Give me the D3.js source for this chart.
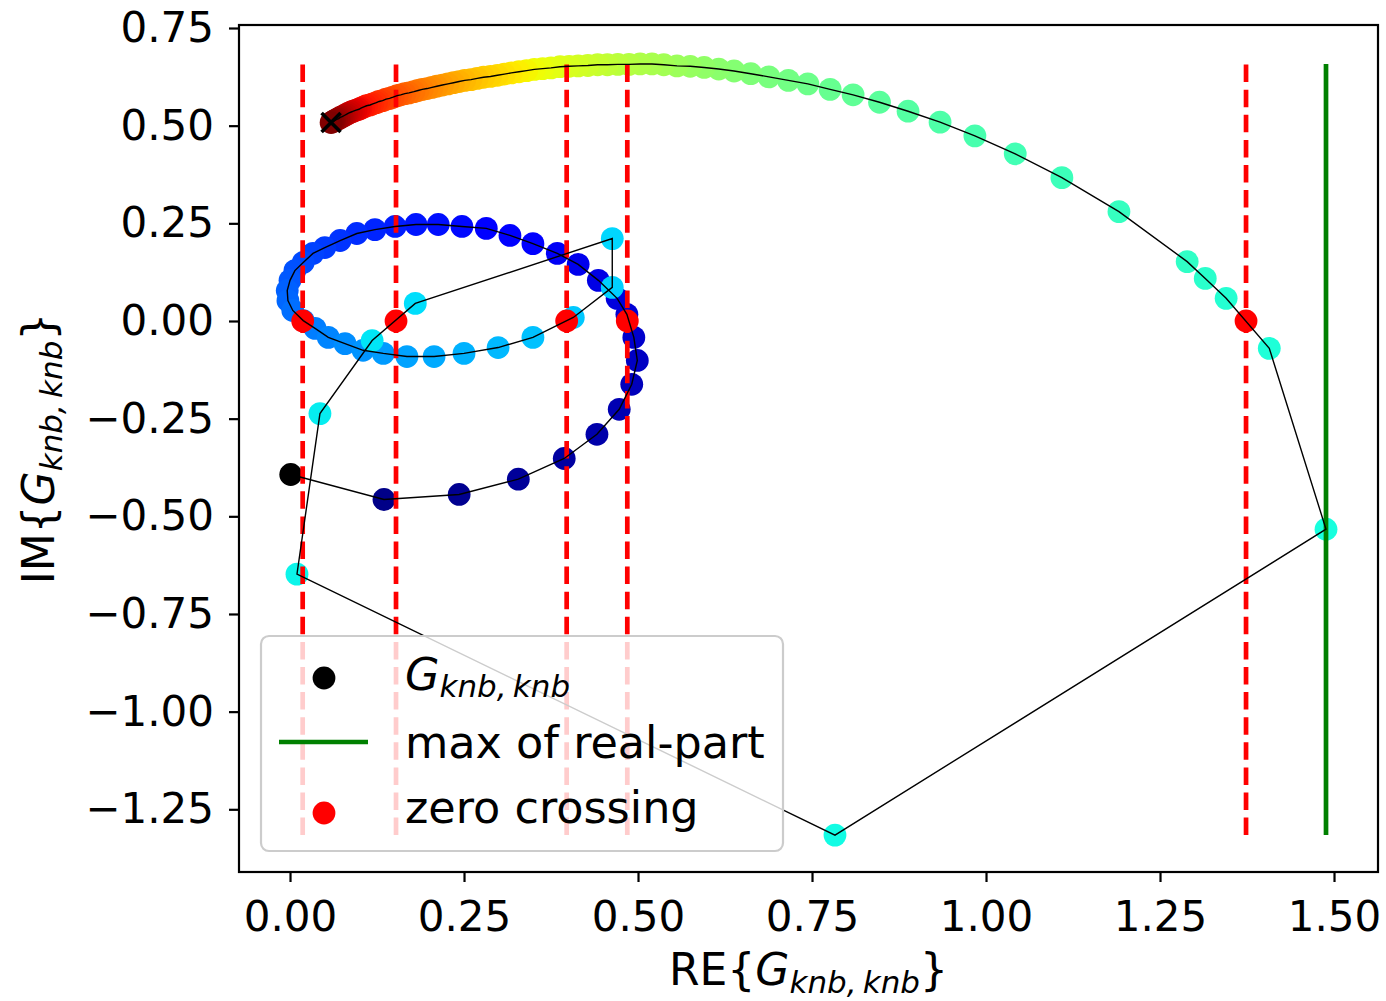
<!DOCTYPE html>
<html><head><meta charset="utf-8">
<script src="https://cdn.jsdelivr.net/npm/d3@7"></script>
<style>
body{margin:0;background:#fff}
svg{display:block}
text{font-family:"DejaVu Sans",sans-serif;fill:#000}
</style>
</head><body>
<svg id="chart" width="1386" height="1001"></svg>
<script>
// ---- data ----
const reG = [
 0.001, 0.135, 0.243, 0.328, 0.394, 0.441, 0.473, 0.491, 0.499, 0.494, 0.484,
 0.470, 0.443, 0.414, 0.384, 0.349, 0.316, 0.282, 0.247, 0.213, 0.181,
 0.151, 0.122, 0.096, 0.072, 0.050, 0.033, 0.019, 0.007, 0.000, -0.004,
 -0.003, 0.004, 0.019, 0.036, 0.055, 0.079, 0.105, 0.134, 0.168, 0.207,
 0.250, 0.299, 0.349, 0.407, 0.463, 0.463, 0.180, 0.118, 0.043, 0.010,
 0.783, 1.4885, 1.407, 1.345, 1.315, 1.289, 1.191, 1.109, 1.042, 0.984,
 0.934, 0.888, 0.847, 0.809, 0.776, 0.744, 0.716, 0.688, 0.662, 0.638,
 0.616, 0.595, 0.575, 0.556, 0.537, 0.520, 0.503,
 0.487, 0.471, 0.456, 0.442, 0.428, 0.414, 0.401, 0.388, 0.375, 0.363,
 0.351, 0.340, 0.329, 0.318, 0.308, 0.298, 0.288, 0.278, 0.269, 0.260,
 0.251, 0.243, 0.235, 0.227, 0.219, 0.211, 0.204, 0.197, 0.190, 0.184,
 0.178, 0.171, 0.165, 0.159, 0.154, 0.148, 0.143, 0.138, 0.133, 0.128,
 0.124, 0.119, 0.115, 0.110, 0.106, 0.102, 0.099, 0.095, 0.091, 0.088,
 0.084, 0.081, 0.078, 0.075, 0.072, 0.070, 0.067, 0.064, 0.062, 0.059
];
const imG = [
 -0.393, -0.457, -0.444, -0.405, -0.352, -0.290, -0.226, -0.162, -0.101, -0.042, 0.017,
 0.058, 0.104, 0.145, 0.173, 0.198, 0.219, 0.237, 0.242, 0.247, 0.247,
 0.242, 0.234, 0.224, 0.206, 0.188, 0.173, 0.150, 0.129, 0.104, 0.078,
 0.052, 0.027, 0.001, -0.019, -0.042, -0.058, -0.075, -0.083, -0.091, -0.091,
 -0.083, -0.068, -0.042, 0.009, 0.086, 0.211, 0.045, -0.050, -0.237, -0.648,
 -1.316, -0.533, -0.070, 0.058, 0.109, 0.152, 0.280, 0.367, 0.428, 0.474,
 0.509, 0.537, 0.560, 0.579, 0.593, 0.607, 0.616, 0.625, 0.633, 0.640,
 0.645, 0.649, 0.652, 0.653, 0.656, 0.658, 0.658,
 0.657, 0.657, 0.656, 0.656, 0.654, 0.653, 0.652, 0.651, 0.648, 0.646,
 0.644, 0.641, 0.638, 0.635, 0.632, 0.629, 0.626, 0.624, 0.621, 0.618,
 0.616, 0.613, 0.610, 0.607, 0.604, 0.601, 0.598, 0.595, 0.593, 0.590,
 0.587, 0.584, 0.582, 0.579, 0.577, 0.573, 0.570, 0.568, 0.564, 0.562,
 0.559, 0.556, 0.553, 0.551, 0.548, 0.545, 0.542, 0.540, 0.537, 0.535,
 0.532, 0.529, 0.526, 0.523, 0.521, 0.518, 0.516, 0.513, 0.511, 0.508
];
const zeroCrossRe = [0.0182, 0.1523, 0.3975, 0.4846, 1.3736];
const maxRe = 1.4885;
const xTicks = [0, 0.25, 0.5, 0.75, 1.0, 1.25, 1.5];
const xTickLabels = ["0.00", "0.25", "0.50", "0.75", "1.00", "1.25", "1.50"];
const yTicks = [0.75, 0.5, 0.25, 0, -0.25, -0.5, -0.75, -1.0, -1.25];
const yTickLabels = ["0.75", "0.50", "0.25", "0.00", "\u22120.25", "\u22120.50", "\u22120.75", "\u22121.00", "\u22121.25"];
const legendLabels = ["G", "max of real-part", "zero crossing"];

// ---- layout ----
const L = 239, R = 1378, T = 25, B = 872;
const svg = d3.select("#chart");
const x = d3.scaleLinear().domain([-0.0733, 1.5632]).range([L, R]);
const y = d3.scaleLinear().domain([-1.4105, 0.7577]).range([B, T]);

// jet colormap
const jetR = [[0,0],[0.35,0],[0.66,1],[0.89,1],[1,0.5]];
const jetG = [[0,0],[0.125,0],[0.375,1],[0.64,1],[0.91,0],[1,0]];
const jetB = [[0,0.5],[0.11,1],[0.34,1],[0.65,0],[1,0]];
function seg(p, t){
  for (let i = 0; i < p.length - 1; i++){
    if (t <= p[i+1][0]){
      const f = (t - p[i][0]) / (p[i+1][0] - p[i][0]);
      return p[i][1] + f * (p[i+1][1] - p[i][1]);
    }
  }
  return p[p.length-1][1];
}
function jet(t){
  return d3.rgb(255*seg(jetR,t), 255*seg(jetG,t), 255*seg(jetB,t)).formatHex();
}

svg.append("defs").append("clipPath").attr("id","clip")
  .append("rect").attr("x",L).attr("y",T).attr("width",R-L).attr("height",B-T);

const pts = reG.map((v,i)=>({re:v, im:imG[i], i}));
const n = pts.length;
const plot = svg.append("g").attr("clip-path","url(#clip)");
const MR = 11.4;

// scatter of G
plot.append("g").selectAll("circle").data(pts).join("circle")
  .attr("cx", d=>x(d.re)).attr("cy", d=>y(d.im)).attr("r", MR)
  .attr("fill", d=> d.i===0 ? "#000000" : jet(d.i/(n-1)));

// zero crossing markers
plot.append("g").selectAll("circle").data(zeroCrossRe).join("circle")
  .attr("cx", d=>x(d)).attr("cy", y(0)).attr("r", MR).attr("fill", "#ff0000");

const imMin = d3.min(imG), imMax = d3.max(imG);
// red dashed verticals
plot.append("g").selectAll("line").data(zeroCrossRe).join("line")
  .attr("x1", d=>x(d)).attr("x2", d=>x(d))
  .attr("y1", y(imMin)).attr("y2", y(imMax))
  .attr("stroke", "#ff0000").attr("stroke-width", 4.7)
  .attr("stroke-dasharray", "17.5,7.6");
// green max line
plot.append("line").attr("x1", x(maxRe)).attr("x2", x(maxRe))
  .attr("y1", y(imMin)).attr("y2", y(imMax))
  .attr("stroke", "#008000").attr("stroke-width", 4.7);

// connecting black line
plot.append("path").datum(pts)
  .attr("d", d3.line().x(d=>x(d.re)).y(d=>y(d.im)))
  .attr("fill","none").attr("stroke","#000").attr("stroke-width",1.4);

// end marker 'x'
const last = pts[n-1];
const xs = 9.5;
plot.append("path")
  .attr("d", `M${x(last.re)-xs},${y(last.im)-xs}L${x(last.re)+xs},${y(last.im)+xs}M${x(last.re)-xs},${y(last.im)+xs}L${x(last.re)+xs},${y(last.im)-xs}`)
  .attr("stroke","#000").attr("stroke-width",3.6).attr("fill","none");

// axes
const xAxis = svg.append("g").attr("transform",`translate(0,${B})`)
  .call(d3.axisBottom(x).tickValues(xTicks).tickFormat((d,i)=>xTickLabels[i]).tickSize(10).tickPadding(19));
const yAxis = svg.append("g").attr("transform",`translate(${L},0)`)
  .call(d3.axisLeft(y).tickValues(yTicks).tickFormat((d,i)=>yTickLabels[i]).tickSize(10).tickPadding(15));
[xAxis, yAxis].forEach(a=>{
  a.select(".domain").remove();
  a.selectAll(".tick line").attr("stroke","#000").attr("stroke-width",2.2);
  a.selectAll(".tick text").attr("font-size",42).attr("font-family","DejaVu Sans").attr("fill","#000");
});
svg.append("rect").attr("x",L).attr("y",T).attr("width",R-L).attr("height",B-T)
  .attr("fill","none").attr("stroke","#000").attr("stroke-width",2.2);

// axis labels
function mathLabel(sel, prefix){
  sel.append("tspan").text(prefix + "{");
  sel.append("tspan").attr("font-style","italic").text("G");
  sel.append("tspan").attr("font-style","italic").attr("font-size",31).attr("dy",8).text("knb,\u2009knb");
  sel.append("tspan").attr("dy",-8).text("}");
}
const xl = svg.append("text").attr("x",(L+R)/2).attr("y",985).attr("text-anchor","middle").attr("font-size",44);
mathLabel(xl, "RE");
const yl = svg.append("text").attr("transform",`translate(54,${(T+B)/2}) rotate(-90)`).attr("text-anchor","middle").attr("font-size",44);
mathLabel(yl, "IM");

// legend
const lg = svg.append("g");
lg.append("rect").attr("x",261).attr("y",636).attr("width",522).attr("height",215).attr("rx",8)
  .attr("fill","#ffffff").attr("fill-opacity",0.8).attr("stroke","#cccccc").attr("stroke-width",2.2);
lg.append("circle").attr("cx",324).attr("cy",678).attr("r",MR).attr("fill","#000");
lg.append("line").attr("x1",279).attr("x2",368).attr("y1",742).attr("y2",742).attr("stroke","#008000").attr("stroke-width",4.7);
lg.append("circle").attr("cx",324).attr("cy",813).attr("r",MR).attr("fill","#ff0000");
const t1 = lg.append("text").attr("x",405).attr("y",690).attr("font-size",44.5);
t1.append("tspan").attr("font-style","italic").text(legendLabels[0]);
t1.append("tspan").attr("font-style","italic").attr("font-size",31).attr("dy",7).text("knb,\u2009knb");
lg.append("text").attr("x",405).attr("y",758).attr("font-size",44.5).text(legendLabels[1]);
lg.append("text").attr("x",405).attr("y",823).attr("font-size",44.5).text(legendLabels[2]);
</script>
</body></html>
